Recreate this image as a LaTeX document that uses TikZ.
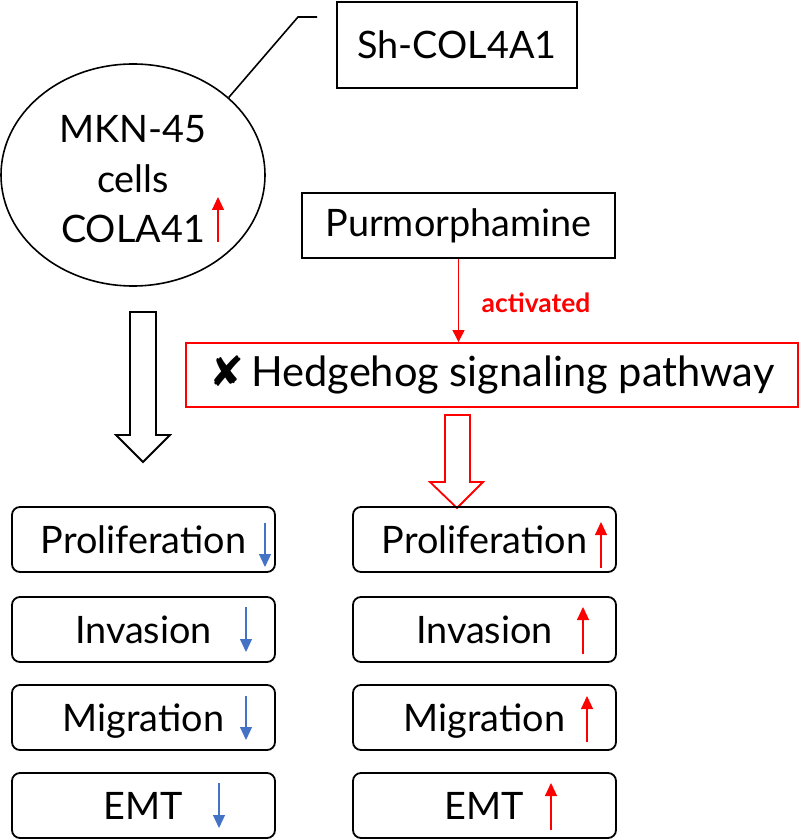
\documentclass[tikz,border=0pt]{standalone}
\usepackage{fontspec}
\setmainfont{Lato}
\newfontfamily\symfont{DejaVu Sans}
\usetikzlibrary{positioning, arrows.meta, shapes.geometric}
\definecolor{trendblue}{RGB}{68,114,196}

\begin{document}
\begin{tikzpicture}[
  x=0.5pt, y=-0.5pt,
  every node/.style={font=\fontsize{18.9}{23.75}\selectfont},
  plainbox/.style={draw=black, line width=0.9pt, inner sep=0},
  redbox/.style={draw=red, line width=0.9pt, inner sep=0},
  cellbox/.style={draw=black, line width=0.9pt, rounded corners=4pt, minimum width=131.5pt, minimum height=32.5pt, inner sep=0, text height=13.6pt, text depth=0pt},
  fallarrow/.style={-{Triangle[length=6.5pt, width=6pt]}, trendblue, line width=0.6pt},
  risearrow/.style={-{Triangle[length=6.5pt, width=6pt]}, red, line width=0.6pt},
  hollow/.style={line width=0.9pt, fill=white, line join=miter},
]
  \useasboundingbox (0,0) rectangle (800,839);

  % --- top: knockdown box, cell line, agonist ---
  \node[plainbox, minimum width=120pt, minimum height=43pt] (sh) at (457,45) {Sh-COL4A1};
  \node[ellipse, draw, line width=0.8pt, minimum width=132pt, minimum height=111pt, inner sep=0, align=center] (mkn) at (133,175) {\rule{0pt}{17.5pt}MKN-45\\[1.3pt]cells\\[1.3pt]COLA41};
  \node[plainbox, minimum width=156.5pt, minimum height=32.5pt] (purm) at (458.5,225.5) {Purmorphamine};
  \node[redbox, minimum width=306pt, minimum height=32pt, font=\fontsize{20.8}{24}\selectfont] (hh) at (492,375) {{\symfont ✘}\,Hedgehog signaling pathway};

  % --- callout from cells to sh box ---
  \coordinate (knee) at (298,17);
  \coordinate (tail) at (317,17);
  \draw[line width=0.8pt] (mkn.39) -- (knee) -- (tail);

  % --- activation arrow ---
  \draw[red, line width=0.5pt, -{Triangle[length=6pt, width=6pt]}] (purm.south) -- (purm.south |- hh.north)
    node[midway, right=8pt, yshift=-1pt, font=\fontsize{13.2}{15}\selectfont\bfseries, text=red] {activated};

  % --- hollow block arrows ---
  \draw[hollow, draw=black] (130,312) -- (156,312) -- (156,435) -- (170,435) -- (143,462) -- (116,435) -- (130,435) -- cycle;
  \draw[hollow, draw=red] (445,415) -- (470,415) -- (470,482) -- (483,482) -- (457,508) -- (430,482) -- (445,482) -- cycle;

  % --- outcome boxes: left (knockdown), right (rescued) ---
  \foreach \name/\txt/\y in {pro/Proliferation/539.5, inv/Invasion/629.5, mig/Migration/717.5, emt/EMT/805.5}{
    \node[cellbox] (l\name) at (143.5,\y) {\txt};
    \node[cellbox] (r\name) at (484.5,\y) {\txt};
  }

  % --- trend arrows ---
  \foreach \x/\a/\b in {265/523/567, 246/607/652, 246/696/740, 219/783/828}
    \draw[fallarrow] (\x,\a) -- (\x,\b);
  \foreach \x/\a/\b in {601/568/522, 583/654/607, 587/742/696, 551/830/783}
    \draw[risearrow] (\x,\a) -- (\x,\b);
  \draw[risearrow] (218,242) -- (218,197);
\end{tikzpicture}
\end{document}
